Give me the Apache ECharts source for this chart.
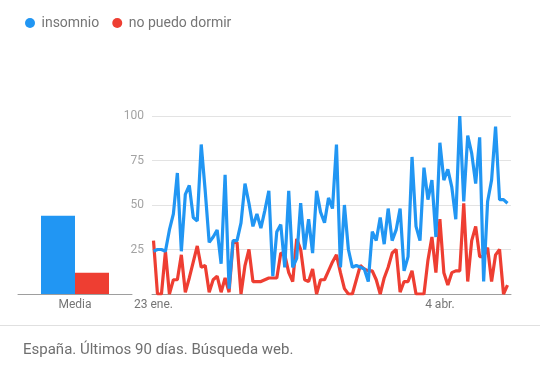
<!DOCTYPE html>
<html>
<head>
<meta charset="utf-8">
<script src="https://cdn.jsdelivr.net/npm/echarts@6/dist/echarts.min.js"></script>
<style>
html,body{margin:0;padding:0;background:#fff;}
#chart{width:540px;height:372px;}
</style>
</head>
<body>
<div id="chart"></div>
<script>
// Series names
const seriesNames = ['insomnio', 'no puedo dormir'];
// Average ("Media") values
const mediaValues = [44, 12];
// Daily values (last 90 days, from 23 ene.)
const insomnio = [24,25,25,24,36,45,68,24,56,61,43,41,84,58,29,32,36,17,67,3,
  30,30,40,62,51,38,45,37,47,58,10,35,39,15,58,15,20,51,25,42,
  23,58,46,40,54,48,84,15,50,25,15,16,15,14,7,35,30,43,28,48,
  30,36,48,13,21,77,38,30,71,53,64,32,85,64,70,60,42,100,52,89,
  79,62,88,7,52,64,94,53,53,51];
const noPuedoDormir = [30,0,0,24,0,8,8,22,1,9,18,27,15,16,1,8,10,1,9,1,
  29,29,0,16,25,7,7,7,8,9,9,9,23,22,12,7,31,25,8,7,
  14,0,8,8,13,18,22,12,3,0,0,8,16,14,13,13,8,0,9,15,
  23,25,1,7,7,13,0,0,0,19,32,12,42,12,5,12,13,13,51,7,
  30,38,21,21,26,7,22,25,0,5];
// Tick labels shown on the time axis and their positions (day index)
const tickLabels = ['23 ene.', '4 abr.'];
const tickIndex = [0, 72];
const barCategory = ['Media'];
const footerText = 'España. Últimos 90 días. Búsqueda web.';

// Day categories
const months = ['ene.','feb.','mar.','abr.','may.','jun.','jul.','ago.','sept.','oct.','nov.','dic.'];
const days = [];
const start = new Date(2020, 0, 23);
for (let i = 0; i < insomnio.length; i++) {
  const d = new Date(start.getFullYear(), start.getMonth(), start.getDate() + i);
  days.push(d.getDate() + ' ' + months[d.getMonth()]);
}

const BLUE = '#2196f3';
const RED = '#ee3e32';
const FONT = 'Roboto';

const chart = echarts.init(document.getElementById('chart'), null, {renderer: 'canvas'});
chart.setOption({
  animation: false,
  textStyle: {fontFamily: FONT},
  legend: {
    left: 20, top: 11,
    icon: 'circle',
    itemWidth: 13, itemHeight: 10, itemGap: 13,
    textStyle: {fontFamily: FONT, fontSize: 14, color: '#757575'},
    data: seriesNames
  },
  graphic: [
    {type: 'line', shape: {x1: 0, y1: 325.5, x2: 540, y2: 325.5}, style: {stroke: '#e0e0e0', lineWidth: 1}},
    {type: 'text', left: 23, top: 343, style: {text: footerText, font: '15px Roboto', fill: '#6f6f6f'}}
  ],
  grid: [
    {left: 18, width: 114, top: 116, height: 178},
    {left: 153.5, width: 354, top: 116, height: 178},
    {left: 152, width: 359, top: 116, height: 178}
  ],
  xAxis: [
    {gridIndex: 0, type: 'category', data: barCategory,
     axisLine: {lineStyle: {color: '#9e9e9e', width: 1}}, axisTick: {show: false},
     axisLabel: {color: '#757575', fontSize: 12, margin: 5}},
    {gridIndex: 1, type: 'category', data: days, boundaryGap: false,
     axisLine: {show: false}, axisTick: {show: false},
     axisLabel: {color: '#757575', fontSize: 12, margin: 5,
       interval: (idx) => tickIndex.indexOf(idx) >= 0,
       formatter: (v, idx) => { const k = tickIndex.indexOf(idx); return k >= 0 ? tickLabels[k] : ''; }}},
    {gridIndex: 2, type: 'value', min: 0, max: 1,
     axisLine: {show: true, lineStyle: {color: '#9e9e9e', width: 1}}, axisTick: {show: false},
     axisLabel: {show: false}, splitLine: {show: false}}
  ],
  yAxis: [
    {gridIndex: 0, type: 'value', min: 0, max: 100, show: false},
    {gridIndex: 1, type: 'value', min: 0, max: 100, show: false},
    {gridIndex: 2, type: 'value', min: 0, max: 100, interval: 25,
     axisLine: {show: false}, axisTick: {show: false},
     axisLabel: {color: '#a3a3a3', fontSize: 12, margin: 8,
       formatter: (v) => (v === 0 ? '' : String(v))},
     splitLine: {lineStyle: {color: '#e3e3e3', width: 1}}}
  ],
  series: [
    {name: seriesNames[0], type: 'bar', xAxisIndex: 0, yAxisIndex: 0,
     data: [mediaValues[0]], barWidth: 34, barGap: '0%', itemStyle: {color: BLUE}},
    {name: seriesNames[1], type: 'bar', xAxisIndex: 0, yAxisIndex: 0,
     data: [mediaValues[1]], barWidth: 34, barGap: '0%', itemStyle: {color: RED}},
    {name: seriesNames[1], type: 'line', xAxisIndex: 1, yAxisIndex: 1,
     data: noPuedoDormir, showSymbol: false, symbol: 'none', z: 3,
     lineStyle: {color: RED, width: 3.2}, itemStyle: {color: RED}},
    {name: seriesNames[0], type: 'line', xAxisIndex: 1, yAxisIndex: 1,
     data: insomnio, showSymbol: false, symbol: 'none', z: 4,
     lineStyle: {color: BLUE, width: 3.2}, itemStyle: {color: BLUE}}
  ]
});
</script>
</body>
</html>
